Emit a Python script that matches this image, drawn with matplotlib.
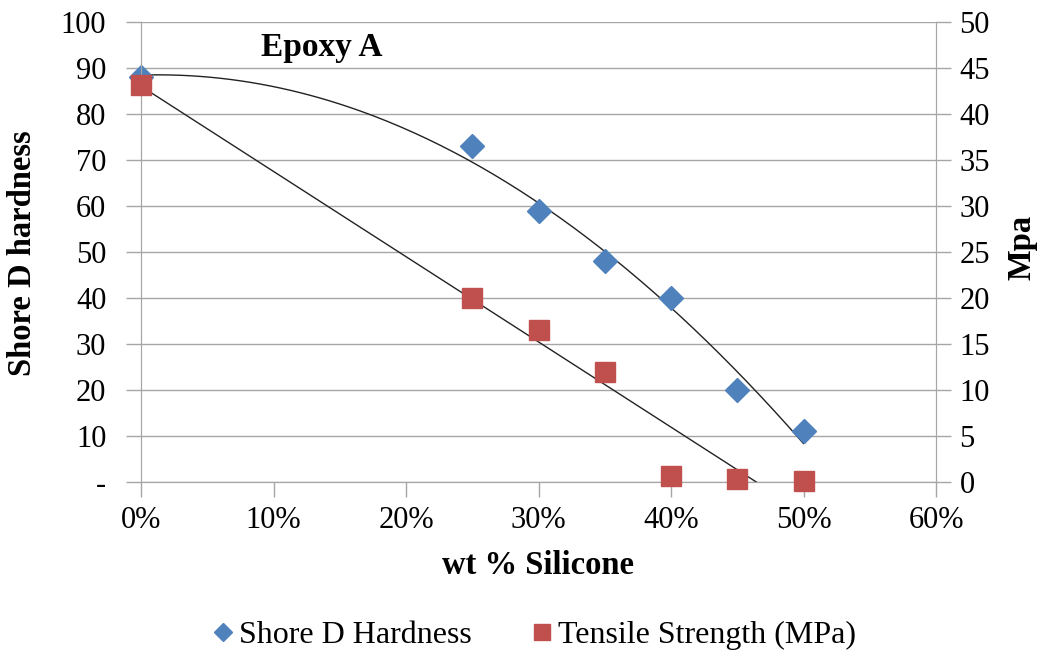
import matplotlib.pyplot as plt
import numpy as np

plt.rcParams['font.family'] = ['Liberation Serif', 'DejaVu Serif']

# data
silicone_pct = [0, 25, 30, 35, 40, 45, 50]
shore_d = [88, 73, 59, 48, 40, 20, 11]
tensile_mpa = [43.2, 20, 16.5, 12, 0.6, 0.3, 0.1]
x_ticks = [0, 10, 20, 30, 40, 50, 60]
left_ticks = [0, 10, 20, 30, 40, 50, 60, 70, 80, 90, 100]
right_ticks = [0, 5, 10, 15, 20, 25, 30, 35, 40, 45, 50]

blue = '#4F81BD'
red = '#C0504D'
grey = '#A6A6A6'

W, H = 1043, 662
fig = plt.figure(figsize=(W / 100, H / 100), dpi=100)
ax = fig.add_axes([141 / W, 1 - 482 / H, (936 - 141) / W, (482 - 22) / H])
ax2 = ax.twinx()

# trendlines (excel-style fits)
xs = np.linspace(0, 50, 200)
p_h = np.polyfit(silicone_pct, shore_d, 2)
ax.plot(xs, np.polyval(p_h, xs), color='#222222', lw=1.0, zorder=2)
p_t = np.polyfit(silicone_pct, tensile_mpa, 1)
ax2.plot(xs, np.polyval(p_t, xs), color='#222222', lw=1.0, zorder=2)

h1, = ax.plot(silicone_pct, shore_d, 'D', color=blue, ms=12, mec=blue, zorder=3,
              clip_on=False, label='Shore D Hardness')
h2, = ax2.plot(silicone_pct, tensile_mpa, 's', color=red, ms=15, mec=red, zorder=3,
               clip_on=False, label='Tensile Strength (MPa)')

ax.set_xlim(0, 60)
ax.set_ylim(0, 100)
ax2.set_ylim(0, 50)
ax.set_xticks(x_ticks)
ax.set_xticklabels([f'{v}%' for v in x_ticks])
ax.set_yticks(left_ticks)
ax.set_yticklabels(['-'] + [str(v) for v in left_ticks[1:]])
ax2.set_yticks(right_ticks)
ax.grid(axis='y', color=grey, lw=1.0)
ax.set_axisbelow(True)

for a in (ax, ax2):
    a.tick_params(labelsize=22, color=grey, length=11, width=1.0, direction='out')
    a.spines['top'].set_visible(False)
    for s in ('left', 'right', 'bottom'):
        a.spines[s].set_color(grey)
ax.tick_params(axis='x', pad=6)
ax.tick_params(axis='y', pad=14)
ax2.tick_params(axis='y', pad=6)

fig.text(0.5 * (141 + 936) / W, 1 - 565 / H, 'wt % Silicone', fontsize=23.5,
         fontweight='bold', ha='center', va='center')
fig.text(23 / W, 1 - 253 / H, 'Shore D hardness', fontsize=23.5, fontweight='bold',
         rotation=90, ha='center', va='center')
fig.text(1022 / W, 1 - 247 / H, 'Mpa', fontsize=23.5, fontweight='bold',
         rotation=90, ha='center', va='center')

ax.text(0.227, 0.944, 'Epoxy A', transform=ax.transAxes, fontsize=24,
        fontweight='bold', ha='center', va='center')

fig.legend([h1, h2], ['Shore D Hardness', 'Tensile Strength (MPa)'],
           loc='center', bbox_to_anchor=(532 / W, 1 - 635 / H), ncol=2, frameon=False,
           fontsize=23, handletextpad=0.0, columnspacing=1.7, markerscale=0.75,
           handlelength=1.0)

fig.savefig('out.png', dpi=100)
